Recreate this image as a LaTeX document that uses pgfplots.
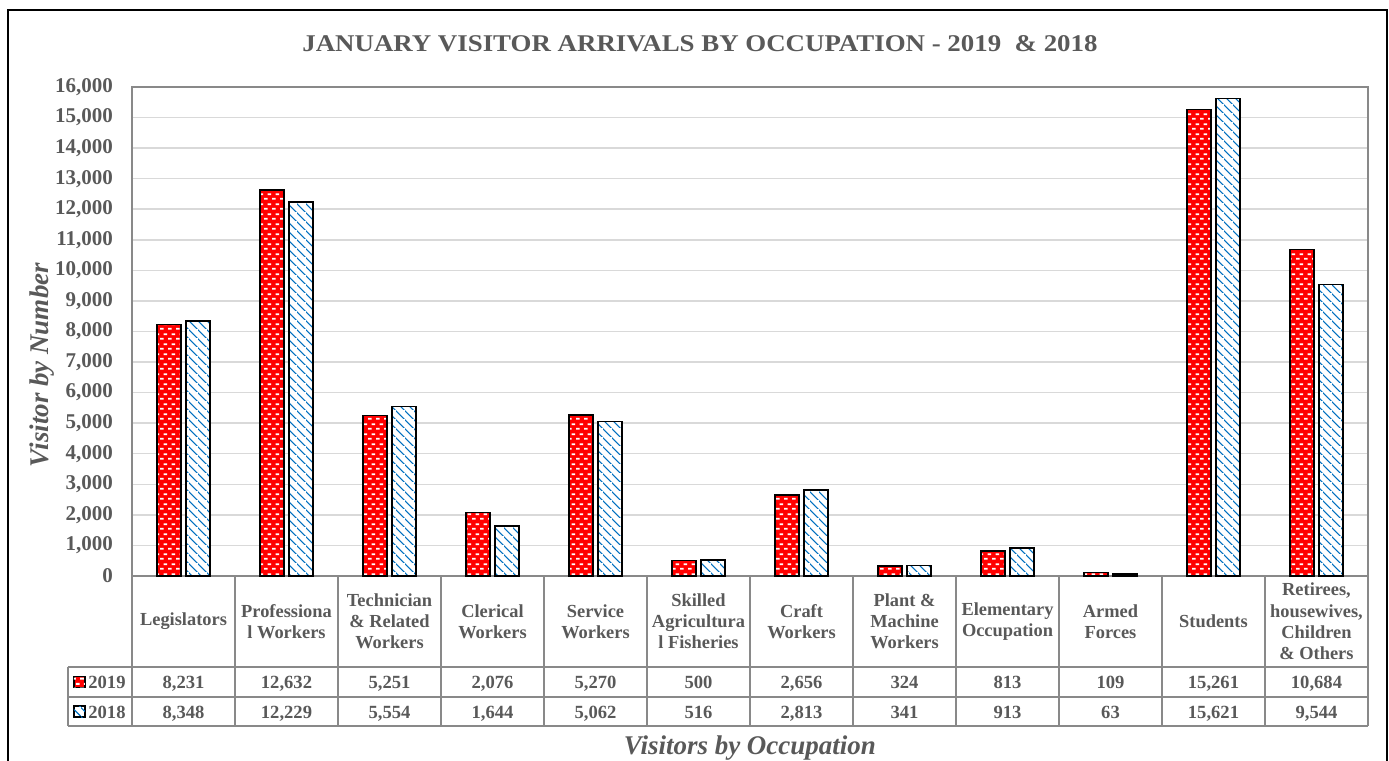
\documentclass[border=0pt]{standalone}
\usepackage{pgfplots}
\pgfplotsset{compat=1.18}
\usepackage{pgfplotstable}
\usepackage{fontspec}
\setmainfont{Liberation Serif}
\usepackage{graphicx}
\usetikzlibrary{patterns.meta}
\definecolor{txt}{HTML}{595959}
\definecolor{gridc}{HTML}{D9D9D9}
\definecolor{axc}{HTML}{898989}
\definecolor{barblue}{HTML}{0070C0}
\definecolor{barred}{HTML}{FF0000}

\tikzdeclarepattern{
  name=bricks, type=uncolored,
  bottom left={(0pt,0pt)}, top right={(4pt,5pt)},
  tile size={(4pt,5pt)},
  code={ \draw[line width=1pt] (0pt,1.25pt) -- (2pt,1.25pt) (2pt,3.75pt) -- (4pt,3.75pt); }
}
\tikzdeclarepattern{
  name=diag, type=uncolored,
  bottom left={(0pt,0pt)}, top right={(4.5pt,4.5pt)},
  tile size={(4.5pt,4.5pt)},
  code={ \draw[line width=0.6pt] (-0.5pt,5pt) -- (5pt,-0.5pt); }
}

\pgfplotstableread{
x y2019 y2018
0 8231 8348
1 12632 12229
2 5251 5554
3 2076 1644
4 5270 5062
5 500 516
6 2656 2813
7 324 341
8 813 913
9 109 63
10 15261 15621
11 10684 9544
}\datatable

\begin{document}
\begin{tikzpicture}[font=\bfseries, text=txt]
\pgfkeys{/pgf/number format/.cd, fixed, 1000 sep={,}, assume math mode=true}
\useasboundingbox (-66pt,-92.5pt) rectangle (628.5pt,288pt);
\draw[line width=1pt, black] (-62pt,-120pt) -- (-62pt,283pt) -- (627.5pt,283pt) -- (627.5pt,-120pt);
\begin{axis}[at={(0,0)}, anchor=south west, scale only axis,
  width=618pt, height=244.5pt,
  ymin=0, ymax=16000, xmin=-0.5, xmax=11.5,
  ytick distance=1000, xtick=\empty,
  scaled y ticks=false,
  ybar, bar width=12pt,
  ymajorgrids, grid style={gridc, line width=0.75pt},
  axis line style={axc, line width=0.75pt},
  major tick length=0pt,
  yticklabel style={font=\fontsize{10.5}{12}\selectfont\bfseries, text=txt, xshift=-6pt},
  clip=false,
  /pgf/number format/.cd, fixed, 1000 sep={,}, assume math mode=true]
  \addplot[draw=black, line width=0.75pt, preaction={fill=barred},
    pattern=bricks, pattern color=white, bar shift=-7.25pt]
    table[x=x, y=y2019] {\datatable};
  \addplot[draw=black, line width=0.75pt, preaction={fill=white},
    pattern=diag, pattern color=barblue, bar shift=7.25pt]
    table[x=x, y=y2018] {\datatable};
\end{axis}
% data table grid
\foreach \k in {0,...,12} \draw[axc, line width=0.75pt] (\k*51.5pt,0pt) -- (\k*51.5pt,-75pt);
\foreach \yy in {-45.5,-60.5,-75} \draw[axc, line width=0.75pt] (-32pt,\yy pt) -- (618pt,\yy pt);
\draw[axc, line width=0.75pt] (-32pt,-45.5pt) -- (-32pt,-75pt);
% header labels
\foreach \lab [count=\i from 0] in {{Legislators},{Professiona\\l Workers},{Technician\\\& Related\\Workers},{Clerical\\Workers},{Service\\Workers},{Skilled\\Agricultura\\l Fisheries},{Craft\\Workers},{Plant \&\\Machine\\Workers},{Elementary\\Occupation},{Armed\\Forces},{Students},{Retirees,\\housewives,\\Children\\\& Others}}
  \node[align=center, font=\fontsize{9.2}{10.6}\selectfont\bfseries, inner sep=0pt] at ({(\i+0.5)*51.5pt},-22.75pt) {\lab};
% values
\foreach \i in {0,...,11} {
  \pgfplotstablegetelem{\i}{y2019}\of\datatable
  \node[font=\fontsize{9.3}{11}\selectfont\bfseries, inner sep=0pt, anchor=base] at ({(\i+0.5)*51.5pt},-56.3pt) {\pgfmathprintnumber{\pgfplotsretval}};
  \pgfplotstablegetelem{\i}{y2018}\of\datatable
  \node[font=\fontsize{9.3}{11}\selectfont\bfseries, inner sep=0pt, anchor=base] at ({(\i+0.5)*51.5pt},-71pt) {\pgfmathprintnumber{\pgfplotsretval}};
}
% legend keys
\draw[black, line width=0.6pt, fill=barred, postaction={pattern=bricks, pattern color=white}] (-29pt,-55.75pt) rectangle (-23.5pt,-50.25pt);
\draw[black, line width=0.6pt, fill=white, postaction={pattern=diag, pattern color=barblue}] (-29pt,-70.5pt) rectangle (-23.5pt,-65pt);
\node[font=\fontsize{9.3}{11}\selectfont\bfseries, inner sep=0pt, anchor=base west] at (-22pt,-56.3pt) {2019};
\node[font=\fontsize{9.3}{11}\selectfont\bfseries, inner sep=0pt, anchor=base west] at (-22pt,-71pt) {2018};
% titles
\node[font=\fontsize{12}{14}\selectfont\bfseries] at (284pt,266pt) {\scalebox{1.12}[1]{JANUARY VISITOR ARRIVALS BY OCCUPATION - 2019\ \ \& 2018}};
\node[font=\fontsize{13.5}{16}\selectfont\bfseries\itshape] at (309pt,-86pt) {Visitors by Occupation};
\node[font=\fontsize{13.5}{16}\selectfont\bfseries\itshape, rotate=90] at (-45pt,105.5pt) {Visitor by Number};
\end{tikzpicture}
\end{document}
